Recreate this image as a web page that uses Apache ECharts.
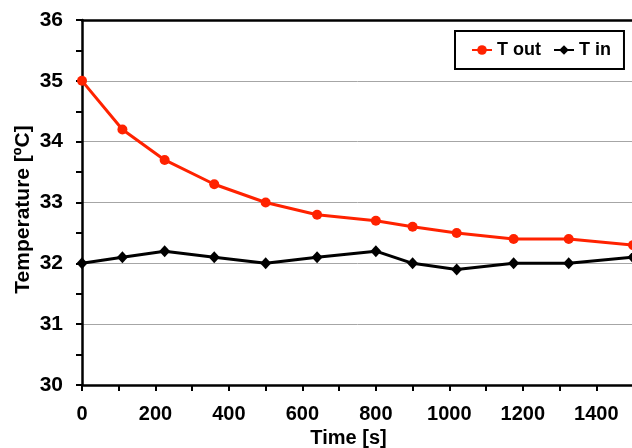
<!DOCTYPE html>
<html>
<head>
<meta charset="utf-8">
<script src="https://cdn.jsdelivr.net/npm/echarts@6/dist/echarts.min.js"></script>
<style>
html,body{margin:0;padding:0;background:#fff;}
#chart{width:632px;height:448px;}
</style>
</head>
<body>
<div id="chart"></div>
<script>
const timeS = [0, 110, 225, 360, 500, 640, 800, 900, 1020, 1175, 1325, 1500];
const tOut = [35.0, 34.2, 33.7, 33.3, 33.0, 32.8, 32.7, 32.6, 32.5, 32.4, 32.4, 32.3];
const tIn = [32.0, 32.1, 32.2, 32.1, 32.0, 32.1, 32.2, 32.0, 31.9, 32.0, 32.0, 32.1];
const seriesNames = ['T out', 'T in'];
const xTitle = 'Time [s]';
const yTitle = 'Temperature [ºC]';

const font = '"Liberation Sans", Arial, sans-serif';
const chart = echarts.init(document.getElementById('chart'), null, {renderer: 'canvas'});
const pairs = (xs, ys) => xs.map((x, i) => [x, ys[i]]);

chart.setOption({
  animation: false,
  backgroundColor: '#ffffff',
  textStyle: {fontFamily: font},
  grid: {left: 82, right: -1, top: 20, bottom: 63, containLabel: false, outerBoundsMode: 'none'},
  legend: {
    left: 455, top: 31,
    orient: 'horizontal',
    data: seriesNames,
    borderColor: '#000', borderWidth: 2,
    padding: [10, 13, 10, 16],
    itemWidth: 20, itemHeight: 12, itemGap: 12,
    textStyle: {fontFamily: font, fontSize: 18, fontWeight: 'bold', color: '#000'},
    backgroundColor: '#fff'
  },
  xAxis: [{
    type: 'value', min: 0, max: 1500, interval: 100,
    name: xTitle, nameLocation: 'middle', nameGap: 41,
    nameTextStyle: {fontFamily: font, fontSize: 20, fontWeight: 'bold', color: '#000', padding: [0, 18, 0, 0]},
    axisLine: {show: true, onZero: false, lineStyle: {color: '#000', width: 2.5}},
    axisTick: {show: true, length: 6, lineStyle: {color: '#000', width: 2}},
    axisLabel: {
      margin: 19, fontFamily: font, fontSize: 20, fontWeight: 'bold', color: '#000',
      formatter: v => (v % 200 === 0 ? String(v) : ''), showMaxLabel: true
    },
    splitLine: {show: false}
  }, {
    type: 'value', position: 'top', min: 0, max: 1500,
    axisLine: {show: true, lineStyle: {color: '#000', width: 2.5}},
    axisTick: {show: false}, axisLabel: {show: false}, splitLine: {show: false}
  }],
  yAxis: {
    type: 'value', min: 30, max: 36, interval: 1,
    name: yTitle, nameLocation: 'middle', nameGap: 48, nameMoveOverlap: false,
    nameTextStyle: {fontFamily: font, fontSize: 21, fontWeight: 'bold', color: '#000', padding: [0, 0, 0, -14]},
    axisLine: {show: true, onZero: false, lineStyle: {color: '#000', width: 2.5}},
    axisTick: {show: true, length: 6, lineStyle: {color: '#000', width: 2}},
    minorTick: {show: true, splitNumber: 2, length: 6, lineStyle: {color: '#000', width: 2}},
    axisLabel: {margin: 19, fontFamily: font, fontSize: 21, fontWeight: 'bold', color: '#000'},
    splitLine: {show: true, lineStyle: {color: '#a6a6a6', width: 1}},
    minorSplitLine: {show: false}
  },
  series: [{
    name: seriesNames[0], type: 'line', data: pairs(timeS, tOut),
    symbol: 'circle', symbolSize: 10, clip: false,
    lineStyle: {color: '#ff2200', width: 3},
    itemStyle: {color: '#ff2200'}, z: 3
  }, {
    name: seriesNames[1], type: 'line', data: pairs(timeS, tIn),
    symbol: 'diamond', symbolSize: [11, 12], clip: false,
    lineStyle: {color: '#000', width: 3},
    itemStyle: {color: '#000'}, z: 3
  }]
});
</script>
</body>
</html>
